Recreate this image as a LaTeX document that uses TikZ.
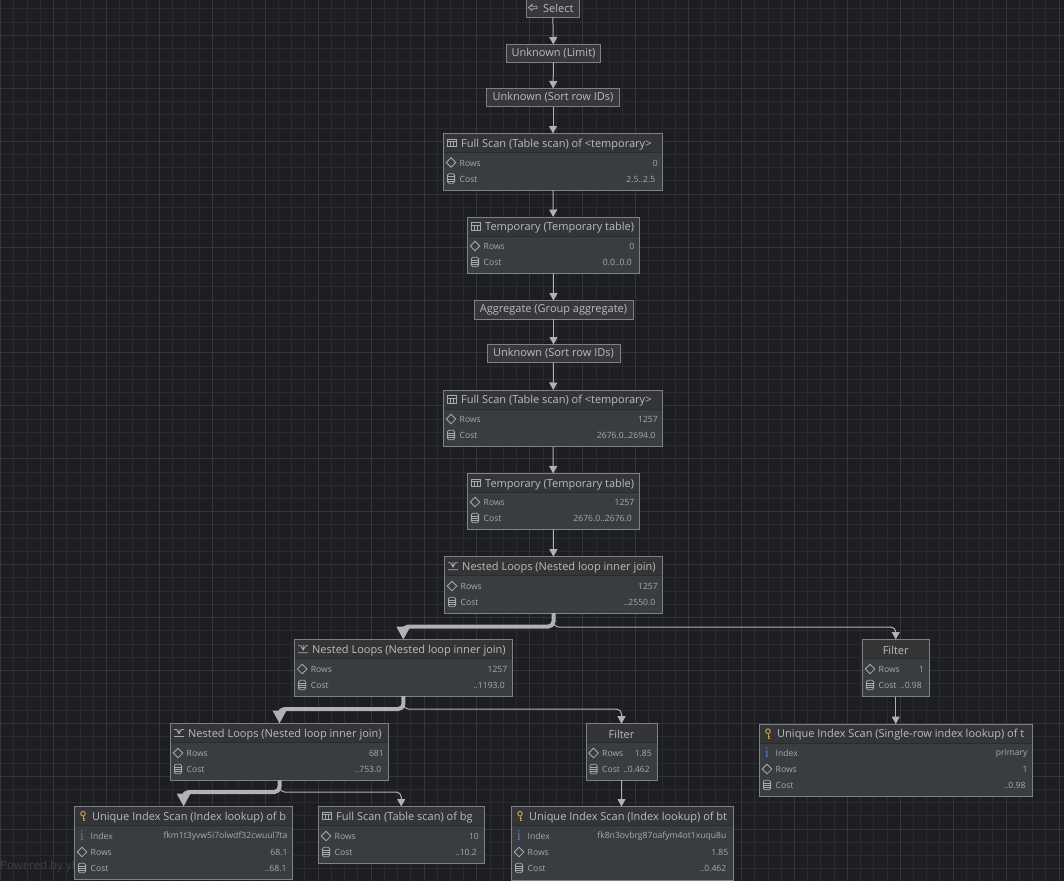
\documentclass[tikz,border=0pt]{standalone}
\usepackage{fontspec}
\setmainfont{Open Sans}
\newfontfamily\iconserif{Liberation Serif}
\usetikzlibrary{arrows.meta}
\definecolor{bgc}{HTML}{1D1E22}
\definecolor{gridminor}{HTML}{2A2B2E}
\definecolor{gridmajor}{HTML}{353638}
\definecolor{framec}{HTML}{7F8182}
\definecolor{bodyc}{HTML}{3A3D40}
\definecolor{headc}{HTML}{343537}
\definecolor{sepc}{HTML}{2A2B2C}
\definecolor{titlec}{HTML}{BABCBE}
\definecolor{rowc}{HTML}{A8ABAE}
\definecolor{edgec}{HTML}{B2B2B2}
\definecolor{keyc}{HTML}{C29A4E}
\definecolor{infoc}{HTML}{4C78BE}
\definecolor{markc}{HTML}{3F4042}
\tikzset{
  planframe/.style={draw=framec,line width=1pt,fill=bodyc,inner sep=0pt,outer sep=0pt},
  simplebox/.style={draw=framec,line width=1pt,fill=headc!60!bodyc,inner sep=0pt,outer sep=0pt,text=titlec,font=\fontsize{11}{12}\selectfont},
  titletext/.style={text=titlec,inner sep=0pt,font=\fontsize{11}{12}\selectfont},
  rowtext/.style={text=rowc,inner sep=0pt,font=\fontsize{8.6}{10}\selectfont},
  thin edge/.style={draw=edgec,line width=1pt,rounded corners=5pt,-{Triangle[length=7.5pt,width=8pt]}},
  thick edge/.style={draw=edgec,line width=4pt,rounded corners=5pt,-{Triangle[length=13pt,width=13pt]},line join=round},
  icn/.style={draw=rowc,line width=.8pt},
  pics/icnone/.style={code={}},
  pics/ictable/.style={code={
    \draw[icn] (-4.5,-3.8) rectangle (4.5,3.8);
    \draw[icn] (-4.5,-1.4) -- (4.5,-1.4) (-1.5,-1.4) -- (-1.5,3.8) (1.5,-1.4) -- (1.5,3.8);}},
  pics/icrows/.style={code={
    \draw[icn] (-4.8,0) -- (0,-4.8) -- (4.8,0) -- (0,4.8) -- cycle;}},
  pics/iccost/.style={code={
    \draw[icn,rounded corners=1.5pt] (-3.6,-4.8) rectangle (3.6,4.8);
    \draw[icn] (-3.6,-2) -- (3.6,-2) (-3.6,0.4) -- (3.6,0.4) (-3.6,2.7) -- (3.6,2.7);}},
  pics/ickey/.style={code={
    \draw[draw=keyc,line width=1pt] (0,-2.3) circle (2.3);
    \draw[draw=keyc,line width=1pt] (0,0) -- (0,4.8) -- (1.8,4.8) (0,2.9) -- (1.5,2.9);}},
  pics/icinfo/.style={code={
    \node[inner sep=0pt,text=infoc,font=\fontsize{15}{15}\selectfont\iconserif] at (0,0) {i};}},
  pics/icjoin/.style={code={
    \draw[icn] (-5,3.5) -- (5,3.5) (-5,-3.5) -- (-2.5,-3.5) -- (0,0.8) -- (2.5,-3.5) -- (5,-3.5) (0,-4) -- (0,1);}},
  pics/icselect/.style={code={
    \draw[icn] (-4.5,0) -- (-1,-3) -- (-1,-1.2) -- (4,-1.2) -- (4,1.2) -- (-1,1.2) -- (-1,3) -- cycle;}},
}
% name, x1, y1, x2, y2, icon, title anchor, title x, title
\newcommand\planhead[9]{%
  \node[planframe,minimum width={(#4-#2)*1pt},minimum height={(#5-#3)*1pt}] (#1) at ({(#2+#4)/2},{(#3+#5)/2}) {};
  \fill[headc] ({#2+.5},{#3+.5}) rectangle ({#4-.5},{#3+19});
  \draw[sepc,line width=1pt] ({#2+.5},{#3+19}) -- ({#4-.5},{#3+19});
  \pic at ({#2+8.5},{#3+9.5}) {#6};
  \node[titletext,anchor=#7] (#1t) at (#8,{#3+10.9}) {#9};
}
% box name, x1, x2, y, icon, label, value, inset
\newcommand\planrow[8]{%
  \pic at ({#2+7.5},#4) {#5};
  \node[rowtext,anchor=west] (#1l#6) at ({#2+16},{#4+.7}) {#6};
  \node[rowtext,anchor=east] (#1v#6) at ({#3-#8},{#4+.7}) {#7};
}
\newcommand\simple[6]{% name x1 y1 x2 y2 text
  \node[simplebox,minimum width={(#4-#2)*1pt},minimum height={(#5-#3)*1pt}] (#1) at ({(#2+#4)/2},{(#3+#5)/2}) {\raisebox{-1.3pt}{#6}};
}
\begin{document}
\begin{tikzpicture}[x=1pt,y=-1pt]
\useasboundingbox (0,0) rectangle (1064,881);
\clip (0,0) rectangle (1064,881);
\fill[bgc] (0,0) rectangle (1064,881);
% grid
\foreach \k in {0,...,80} {
  \draw[gridminor,line width=.9pt] ({.6+13.23*\k},0) -- ({.6+13.23*\k},881);
  \draw[gridminor,line width=.9pt] (0,{8.9+13.23*\k}) -- (1064,{8.9+13.23*\k});
}
\foreach \k in {0,...,20} {
  \draw[gridmajor,line width=.9pt] ({.6+52.92*\k},0) -- ({.6+52.92*\k},881);
  \draw[gridmajor,line width=.9pt] (0,{35.4+52.92*\k}) -- (1064,{35.4+52.92*\k});
}
\node[anchor=west,inner sep=0pt,text=markc,font=\fontsize{11.5}{12}\selectfont] (mark) at (0,866) {Powered by yF};
% nodes
\node[simplebox,minimum width=53pt,minimum height=19pt] (sel) at (552.7,7.8) {};
\pic at (533,7.5) {icselect};
\node[titletext,anchor=west] (selt) at (543,8.8) {Select};
\simple{lim}{506.5}{44.5}{600.5}{62.5}{Unknown (Limit)}
\simple{sort1}{486.5}{88.5}{619.5}{106.5}{Unknown (Sort row IDs)}
\planhead{fs1}{443.5}{133.5}{662.5}{190}{ictable}{west}{461}{Full Scan (Table scan) of <temporary>}
\planrow{fs1}{443.5}{662.5}{162.5}{icrows}{Rows}{0}{4.5}
\planrow{fs1}{443.5}{662.5}{178.5}{iccost}{Cost}{2.5..2.5}{7}
\planhead{tmp1}{467.5}{217}{639}{273.5}{ictable}{west}{485}{Temporary (Temporary table)}
\planrow{tmp1}{467.5}{639}{246}{icrows}{Rows}{0}{4.5}
\planrow{tmp1}{467.5}{639}{262}{iccost}{Cost}{0.0..0.0}{7}
\simple{agg}{474}{300.5}{633}{319}{Aggregate (Group aggregate)}
\simple{sort2}{487}{344.5}{620}{362.5}{Unknown (Sort row IDs)}
\planhead{fs2}{443.5}{390}{662.5}{446.5}{ictable}{west}{461}{Full Scan (Table scan) of <temporary>}
\planrow{fs2}{443.5}{662.5}{419}{icrows}{Rows}{1257}{4.5}
\planrow{fs2}{443.5}{662.5}{435}{iccost}{Cost}{2676.0..2694.0}{7}
\planhead{tmp2}{467.5}{473.5}{639}{529.5}{ictable}{west}{485}{Temporary (Temporary table)}
\planrow{tmp2}{467.5}{639}{502}{icrows}{Rows}{1257}{4.5}
\planrow{tmp2}{467.5}{639}{518}{iccost}{Cost}{2676.0..2676.0}{7}
\planhead{nl1}{444.5}{556.7}{662.5}{613}{icjoin}{west}{462}{Nested Loops (Nested loop inner join)}
\planrow{nl1}{444.5}{662.5}{586}{icrows}{Rows}{1257}{4.5}
\planrow{nl1}{444.5}{662.5}{602}{iccost}{Cost}{..2550.0}{7}
\planhead{nl2}{294.7}{639.7}{512}{696}{icjoin}{west}{312}{Nested Loops (Nested loop inner join)}
\planrow{nl2}{294.7}{512}{669}{icrows}{Rows}{1257}{4.5}
\planrow{nl2}{294.7}{512}{685}{iccost}{Cost}{..1193.0}{7}
\planhead{nl3}{170.5}{723.5}{388.5}{780.3}{icjoin}{west}{188}{Nested Loops (Nested loop inner join)}
\planrow{nl3}{170.5}{388.5}{753}{icrows}{Rows}{681}{4.5}
\planrow{nl3}{170.5}{388.5}{769}{iccost}{Cost}{..753.0}{7}
\planhead{flt1}{862.5}{639.5}{929}{696.7}{icnone}{center}{895.7}{Filter}
\planrow{flt1}{862.5}{929}{669}{icrows}{Rows}{1}{5}
\planrow{flt1}{862.5}{929}{685}{iccost}{Cost}{..0.98}{7}
\planhead{flt2}{586}{723.7}{657}{780}{icnone}{center}{621.5}{Filter}
\planrow{flt2}{586}{657}{753}{icrows}{Rows}{1.85}{5}
\planrow{flt2}{586}{657}{769}{iccost}{Cost}{..0.462}{7}
\planhead{uist}{759.5}{724}{1032.7}{796}{ickey}{west}{777}{Unique Index Scan (Single-row index lookup) of t}
\planrow{uist}{759.5}{1032.7}{753}{icinfo}{Index}{primary}{5}
\planrow{uist}{759.5}{1032.7}{769}{icrows}{Rows}{1}{5}
\planrow{uist}{759.5}{1032.7}{785}{iccost}{Cost}{..0.98}{7}
\planhead{uisb}{74.5}{806.5}{292.7}{879.5}{ickey}{west}{92}{Unique Index Scan (Index lookup) of b}
\planrow{uisb}{74.5}{292.7}{836}{icinfo}{Index}{fkm1t3yvw5i7olwdf32cwuul7ta}{5}
\planrow{uisb}{74.5}{292.7}{852}{icrows}{Rows}{68.1}{5}
\planrow{uisb}{74.5}{292.7}{868}{iccost}{Cost}{..68.1}{6}
\planhead{fsbg}{318.5}{806.5}{484}{863}{ictable}{west}{336}{Full Scan (Table scan) of bg}
\planrow{fsbg}{318.5}{484}{836}{icrows}{Rows}{10}{5}
\planrow{fsbg}{318.5}{484}{852}{iccost}{Cost}{..10.2}{7}
\planhead{uisbt}{511.5}{806.5}{733.5}{880}{ickey}{west}{529}{Unique Index Scan (Index lookup) of bt}
\planrow{uisbt}{511.5}{733.5}{836}{icinfo}{Index}{fk8n3ovbrg87oafym4ot1xuqu8u}{7}
\planrow{uisbt}{511.5}{733.5}{852}{icrows}{Rows}{1.85}{5}
\planrow{uisbt}{511.5}{733.5}{868}{iccost}{Cost}{..0.462}{7}
% connectors
\draw[thin edge] (sel) -- (lim);
\draw[thin edge] (lim) -- (sort1);
\draw[thin edge] (sort1) -- (fs1);
\draw[thin edge] (fs1) -- (tmp1);
\draw[thin edge] (tmp1) -- (agg);
\draw[thin edge] (agg) -- (sort2);
\draw[thin edge] (sort2) -- (fs2);
\draw[thin edge] (fs2) -- (tmp2);
\draw[thin edge] (tmp2) -- (nl1);
\draw[thin edge] (flt1) -- (uist.north -| flt1);
\draw[thin edge] (flt2) -- (uisbt.north -| flt2);
\draw[thin edge] (nl1.south) |- (780,627) -| (flt1.north);
\draw[thin edge] (nl2.south) |- (520,709) -| (flt2.north);
\draw[thin edge] (nl3.south) |- (340,792) -| (fsbg.north);
\draw[thick edge] (nl1.south) |- (480,626.5) -| (nl2.north);
\draw[thick edge] (nl2.south) |- (340,709) -| (nl3.north);
\draw[thick edge] (nl3.south) |- (230,792) -| (uisb.north);
\end{tikzpicture}
\end{document}
